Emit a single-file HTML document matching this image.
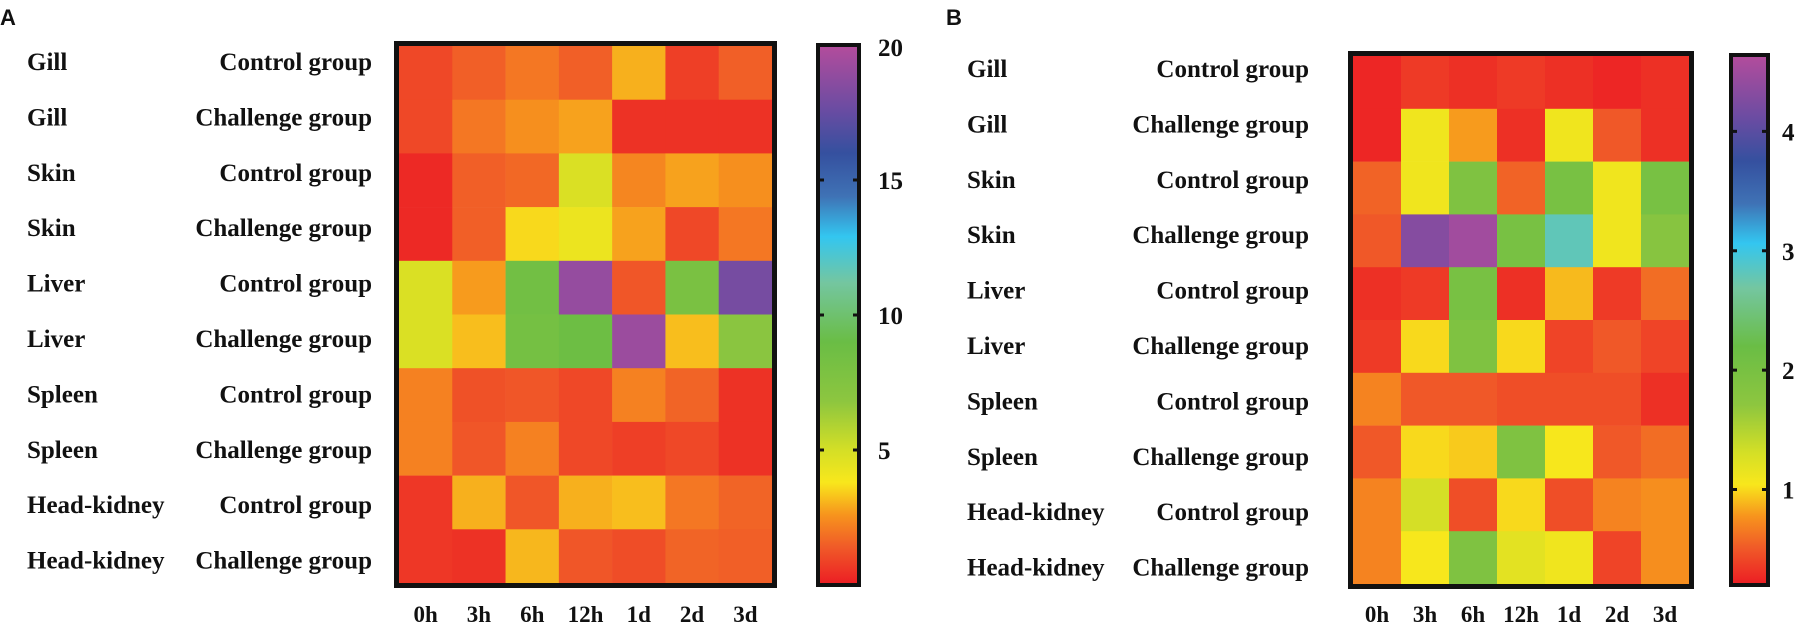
<!DOCTYPE html>
<html><head><meta charset="utf-8"><style>
html,body{margin:0;padding:0;background:#fff;}
svg{display:block;}
text{font-family:"Liberation Serif",serif;font-weight:bold;fill:#111;}
.pl{font-family:"Liberation Sans",sans-serif;}
</style></head><body>
<svg id="chart" width="1795" height="624" viewBox="0 0 1795 624" xmlns="http://www.w3.org/2000/svg">
<defs>
<linearGradient id="cmap" x1="0" y1="1" x2="0" y2="0"></linearGradient>
</defs>
</svg>
<script>
const timepoints = ["0h","3h","6h","12h","1d","2d","3d"];
const tissues = ["Gill","Gill","Skin","Skin","Liver","Liver","Spleen","Spleen","Head-kidney","Head-kidney"];
const groups = ["Control group","Challenge group","Control group","Challenge group","Control group","Challenge group","Control group","Challenge group","Control group","Challenge group"];
const valuesA = [
 [1.0,1.5,2.0,1.5,3.0,0.8,1.5],
 [1.0,2.0,2.5,2.8,0.5,0.5,0.5],
 [0.3,1.5,1.7,4.8,2.3,2.8,2.5],
 [0.3,1.5,3.6,4.2,2.8,1.0,2.0],
 [4.8,2.7,8.5,19.0,1.3,8.0,18.0],
 [4.8,3.2,8.3,8.8,19.2,3.2,7.0],
 [2.2,1.2,1.3,1.0,2.2,1.6,0.5],
 [2.2,1.3,2.2,1.0,0.8,1.0,0.5],
 [0.6,3.0,1.3,3.0,3.2,2.0,1.6],
 [0.6,0.5,3.1,1.3,1.1,1.6,1.5]
];
const valuesB = [
 [0.25,0.35,0.3,0.35,0.3,0.25,0.3],
 [0.25,1.1,0.8,0.3,1.1,0.5,0.3],
 [0.55,1.1,1.9,0.55,2.0,1.1,2.0],
 [0.5,4.3,4.5,2.0,2.8,1.1,1.8],
 [0.3,0.35,2.0,0.3,0.9,0.35,0.6],
 [0.35,1.0,1.9,1.0,0.4,0.5,0.4],
 [0.7,0.5,0.5,0.45,0.45,0.45,0.3],
 [0.5,1.0,0.95,1.9,1.05,0.5,0.6],
 [0.7,1.3,0.45,1.0,0.45,0.7,0.75],
 [0.7,1.05,1.9,1.2,1.1,0.4,0.75]
];
const ticksA = [5,10,15,20];
const ticksB = [1,2,3,4];

const NS="http://www.w3.org/2000/svg";
const svg=document.getElementById('chart');
const stops=[[0,"#ec1c24"],[0.07,"#f05a28"],[0.13,"#f7941d"],[0.19,"#f8e71c"],[0.25,"#d4df26"],[0.34,"#8dc63f"],[0.45,"#6abd45"],[0.56,"#74c6a0"],[0.645,"#33c6f0"],[0.72,"#3f72b5"],[0.8,"#35509f"],[0.88,"#6a4ca2"],[1,"#b44c9c"]];
const grad=svg.querySelector('#cmap');
stops.forEach(s=>{const st=document.createElementNS(NS,'stop');st.setAttribute('offset',s[0]);st.setAttribute('stop-color',s[1]);grad.appendChild(st);});
function hex(h){return [1,3,5].map(i=>parseInt(h.substr(i,2),16));}
function cmap(t){t=Math.max(0,Math.min(1,t));for(let i=1;i<stops.length;i++){if(t<=stops[i][0]){const a=stops[i-1],b=stops[i];const f=(t-a[0])/(b[0]-a[0]);const ca=hex(a[1]),cb=hex(b[1]);return 'rgb('+ca.map((v,k)=>Math.round(v+(cb[k]-v)*f)).join(',')+')';}}return stops[stops.length-1][1];}
function mk(tag,attrs,parent){const e=document.createElementNS(NS,tag);for(const k in attrs)e.setAttribute(k,attrs[k]);(parent||svg).appendChild(e);return e;}
function txt(x,y,s,anchor,size,cls){const t=mk('text',{x:x,y:y,'text-anchor':anchor,'font-size':size});if(cls)t.setAttribute('class',cls);t.textContent=s;return t;}

function panel(cfg){
 const g=mk('g',{});
 
 
 const nx=timepoints.length, ny=tissues.length;
 const cw=(cfg.x1-cfg.x0)/nx, ch=(cfg.y1-cfg.y0)/ny;
 const xs=i=>cfg.x0+i*cw, ys=j=>cfg.y0+j*ch;
 const norm=v=>(v-cfg.vmin)/(cfg.vmax-cfg.vmin);
 cfg.values.forEach((row,j)=>row.forEach((v,i)=>{
  const r=mk('rect',{x:xs(i),y:ys(j),width:cw+0.3,height:ch+0.3,fill:cmap(norm(v))},g);
  
  
 }));
 const fr=mk('rect',{x:cfg.x0-2.5,y:cfg.y0-2.5,width:cfg.x1-cfg.x0+5,height:cfg.y1-cfg.y0+5,fill:'none',stroke:'#111','stroke-width':5},g);
 
 
 tissues.forEach((t,j)=>{
  const by=cfg.ty0+j*55.4;
  const a=txt(cfg.tx,by,t,'start',25);g.appendChild(a);
  const b=txt(cfg.gx,by,groups[j],'end',25);g.appendChild(b);
 });
 timepoints.forEach((tp,i)=>{
  const a=txt(xs(i)+cw/2,622,tp,'middle',23);g.appendChild(a);
 });
 const cb=cfg.cb;
 const cr=mk('rect',{x:cb.x0,y:cb.y0,width:cb.x1-cb.x0,height:cb.y1-cb.y0,fill:'url(#cmap)',stroke:'#111','stroke-width':4},g);
 
 
 const cy=v=>cb.y1-(v-cfg.vmin)/(cfg.vmax-cfg.vmin)*(cb.y1-cb.y0);
 cfg.ticks.forEach(v=>{
  const y=cy(v);
  if(y>cb.y0+4){mk('line',{x1:cb.x0,y1:y,x2:cb.x0+6,y2:y,stroke:'#111','stroke-width':3},g);mk('line',{x1:cb.x1-6,y1:y,x2:cb.x1,y2:y,stroke:'#111','stroke-width':3},g);}
  const a=txt(cb.lx,Math.max(y,cb.y0+2)+9,String(v),'start',25);g.appendChild(a);
 });
 const p=txt(cfg.px,25,cfg.letter,'start',22,'pl');g.appendChild(p);
}
panel({name:'panel-a',letter:'A',px:0,values:valuesA,vmin:0,vmax:20,x0:399,x1:772,y0:46,y1:583,tx:27,gx:372,ty0:70,ticks:ticksA,cb:{x0:818,x1:859,y0:45,y1:585,lx:878}});
panel({name:'panel-b',letter:'B',px:946,values:valuesB,vmin:0.2,vmax:4.64,x0:1353,x1:1689,y0:56,y1:584,tx:967,gx:1309,ty0:77,ticks:ticksB,cb:{x0:1731,x1:1768,y0:55,y1:585,lx:1782}});
</script>
</body></html>
